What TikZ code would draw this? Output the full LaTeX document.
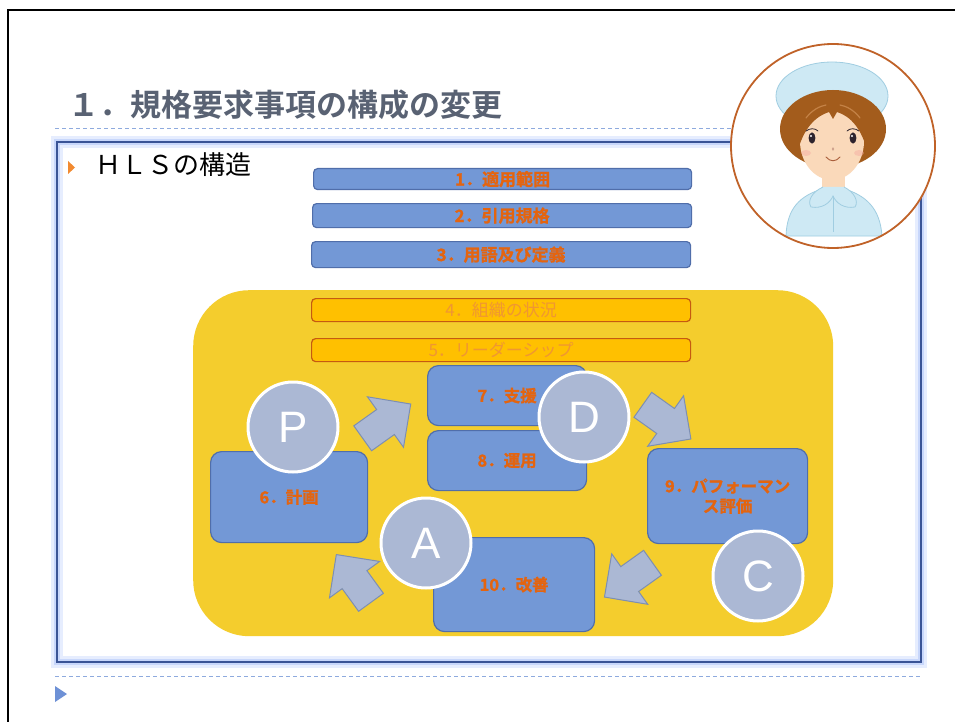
\documentclass[tikz,border=0pt]{standalone}
\usepackage{fontspec}
\setmainfont{Liberation Sans}
\newfontfamily\jp{Noto Sans CJK JP}[BoldFont={* Bold}, BoldFeatures={FakeBold=1.2}]
\newfontfamily\jptitle{Noto Sans CJK JP}[BoldFont={* Bold}]
\newfontfamily\lat{Liberation Sans}
\usetikzlibrary{calc}

\definecolor{titlegray}{RGB}{89,98,115}
\definecolor{dashblue}{RGB}{142,170,222}
\definecolor{frameblue}{RGB}{58,84,150}
\definecolor{glowblue}{RGB}{200,215,251}
\definecolor{glowpale}{RGB}{230,237,254}
\definecolor{bulletorange}{RGB}{242,138,48}
\definecolor{bulletblue}{RGB}{110,145,214}
\definecolor{boxblue}{RGB}{115,152,214}
\definecolor{boxedge}{RGB}{80,110,170}
\definecolor{labelorange}{RGB}{228,100,15}
\definecolor{paneyellow}{RGB}{244,205,45}
\definecolor{baramber}{RGB}{255,192,0}
\definecolor{baredge}{RGB}{197,90,17}
\definecolor{barlabel}{RGB}{240,150,50}
\definecolor{pdcafill}{RGB}{171,184,212}
\definecolor{arrowedge}{RGB}{125,143,178}
\definecolor{ringbrown}{RGB}{192,98,40}
\definecolor{capblue}{RGB}{206,233,244}
\definecolor{capedge}{RGB}{160,205,225}
\definecolor{hairbrown}{RGB}{163,92,28}
\definecolor{hairlight}{RGB}{196,130,70}
\definecolor{skin}{RGB}{250,217,186}
\definecolor{eyedark}{RGB}{45,35,45}
\definecolor{mouthbrown}{RGB}{170,95,60}
\definecolor{cheekpink}{RGB}{245,170,160}

\tikzset{
  bluebar/.style={draw=boxedge, line width=1.2pt, fill=boxblue, rounded corners=4pt,
    inner sep=0pt, anchor=north west, text=labelorange,
    font=\jp\bfseries\fontsize{17}{20}\selectfont},
  amberbar/.style={draw=baredge, line width=1.2pt, fill=baramber, rounded corners=4pt,
    inner sep=0pt, anchor=north west, text=barlabel,
    font=\jp\fontsize{17}{20}\selectfont},
  stagebox/.style={draw=boxedge, line width=1.2pt, fill=boxblue, rounded corners=11pt,
    inner sep=0pt, anchor=north west, text=labelorange, align=center,
    font=\jp\bfseries\fontsize{16.5}{20}\selectfont},
  pdca/.style={circle, minimum size=90pt, inner sep=0pt, fill=pdcafill, draw=white,
    line width=3pt, text=white, font=\lat\fontsize{44}{44}\selectfont},
  panel/.style={rectangle, inner sep=0pt, draw=frameblue, line width=2.6pt,
    preaction={draw=glowpale, line width=12pt},
    preaction={draw=glowblue, line width=6pt}},
  dashrule/.style={draw=dashblue, line width=0.9pt, dash pattern=on 4pt off 3pt},
  blockarrow/.pic={
    \filldraw[fill=pdcafill, draw=arrowedge, line width=1pt, line join=miter]
      (0,-15.3) -- (28,-15.3) -- (28,-31) -- (59,0) -- (28,31) -- (28,15.3) -- (0,15.3) -- cycle;
  }
}

\begin{document}
\begin{tikzpicture}[x=1pt, y=-1pt]
\useasboundingbox (0,0) rectangle (955,722);
\fill[white] (0,0) rectangle (955,722);

% slide frame
\draw[black, line width=2.6pt] (8,730) -- (8,10) -- (960,10);

% heading and rules
\node[anchor=west, inner sep=0pt, text=titlegray,
      font=\jptitle\bfseries\fontsize{31}{31}\selectfont] (title) at (68,105) {１．規格要求事項の構成の変更};
\coordinate (ruleAl) at (55,128);
\coordinate (ruleAr) at (920,128);
\draw[dashrule] (ruleAl) -- (ruleAr);
\coordinate (ruleBl) at (55,676.5);
\coordinate (ruleBr) at (920,676.5);
\draw[dashrule] (ruleBl) -- (ruleBr);

% framed content panel
\node[panel, minimum width=864pt, minimum height=520pt] (panel) at (489,402) {};

% bullets
\fill[bulletorange] (68,161) -- (75,167.5) -- (68,174) -- cycle;
\node[anchor=west, inner sep=0pt, font=\jp\fontsize{26}{26}\selectfont] (hls) at (95,165) {ＨＬＳの構造};
\fill[bulletblue] (55,686) -- (67,694) -- (55,702) -- cycle;

% clauses 1-3
\node[bluebar, minimum width=378pt, minimum height=21pt] (c1) at (313,168) {1．適用範囲};
\node[bluebar, minimum width=379pt, minimum height=24pt] (c2) at (312,203) {2．引用規格};
\node[bluebar, minimum width=379pt, minimum height=26pt] (c3) at (311,241) {3．用語及び定義};

% management system area
\node[fill=paneyellow, rounded corners=56pt, inner sep=0pt, anchor=north west,
      minimum width=640pt, minimum height=346pt] (pane) at (193,290) {};

\node[amberbar, minimum width=379pt, minimum height=23pt] (c4) at (311,298) {4．組織の状況};
\node[amberbar, minimum width=379pt, minimum height=23pt] (c5) at (311,338) {5．リーダーシップ};

\node[stagebox, minimum width=159pt, minimum height=60pt] (c7) at (427,365) {7．支援};
\node[stagebox, minimum width=159pt, minimum height=60pt] (c8) at (427,430) {8．運用};
\node[stagebox, minimum width=157pt, minimum height=91pt] (c6) at (210,451) {6．計画};
\node[stagebox, minimum width=160pt, minimum height=95pt] (c9) at (647,448) {9．パフォーマン\\ス評価};
\node[stagebox, minimum width=161pt, minimum height=94pt] (c10) at (433,537) {10．改善};

% cycle arrows
\pic[rotate=35.5] (toDo) at (362.7,438.3) {blockarrow};
\pic[rotate=-35.4] (toCheck) at (642.8,404.8) {blockarrow};
\pic[rotate=215.5] (toAct) at (652.5,562.8) {blockarrow};
\pic[rotate=126] (toPlan) at (371,602.3) {blockarrow};

% PDCA markers
\node[pdca] (P) at (293,427) {P};
\node[pdca] (D) at (584,417) {D};
\node[pdca] (C) at (758,576) {C};
\node[pdca] (A) at (426,543) {A};

% portrait
\begin{scope}
  \clip (833,146) circle (102);
  \fill[white] (833,146) circle (102);
  % cap
  \filldraw[fill=capblue, draw=capedge, line width=0.8pt] (832,96) ellipse (56 and 34);
  % neck and blouse
  \fill[skin] (822,165) rectangle (845,196);
  \filldraw[fill=capblue, draw=capedge, line width=0.8pt]
    (786,236) .. controls (787,208) and (800,196) .. (822,189) -- (845,189)
    .. controls (866,196) and (880,208) .. (882,236) -- cycle;
  \filldraw[fill=capblue, draw=capedge, line width=0.8pt]
    (823,187) .. controls (812,192) and (807,201) .. (811,207)
    .. controls (822,209) and (830,203) .. (833,196)
    .. controls (836,203) and (844,209) .. (855,207)
    .. controls (859,201) and (854,192) .. (844,187);
  \draw[capedge, line width=0.6pt] (833,196) -- (833,232);
  % hair
  \fill[hairbrown] (833,129) ellipse (53 and 39);
  \fill[skin] (832,141) ellipse (32 and 39);
  \fill[hairbrown] (797,154) .. controls (792,116) and (812,100) .. (833,100)
    .. controls (854,100) and (874,116) .. (868,154)
    .. controls (862,128) and (850,116) .. (837,112) -- (833,119) -- (829,112)
    .. controls (816,116) and (803,128) .. (797,154) -- cycle;
  \draw[hairlight, line width=1.2pt, line cap=round] (806,118) .. controls (812,110) and (820,106) .. (826,105);
  \draw[hairlight, line width=1.2pt, line cap=round] (860,118) .. controls (854,110) and (846,106) .. (840,105);
  % face details
  \fill[cheekpink, opacity=0.45] (806,153) ellipse (5 and 3);
  \fill[cheekpink, opacity=0.45] (859,153) ellipse (5 and 3);
  \draw[eyedark, line width=0.8pt, line cap=round] (806,131) .. controls (810,128) and (815,128) .. (818,131);
  \draw[eyedark, line width=0.8pt, line cap=round] (847,131) .. controls (850,128) and (855,128) .. (859,131);
  \fill[eyedark] (812,138) ellipse (3.4 and 5.6);
  \fill[eyedark] (853,138) ellipse (3.4 and 5.6);
  \fill[white] (811,136) circle (1.1);
  \fill[white] (852,136) circle (1.1);
  \fill[mouthbrown!60] (833,149) ellipse (1.2 and 1.8);
  \draw[mouthbrown, line width=0.9pt, line cap=round] (826,157) .. controls (830,162) and (836,162) .. (840,157);
\end{scope}
\node[circle, minimum size=204pt, inner sep=0pt, draw=ringbrown, line width=1.8pt] (portrait) at (833,146) {};
\end{tikzpicture}
\end{document}
